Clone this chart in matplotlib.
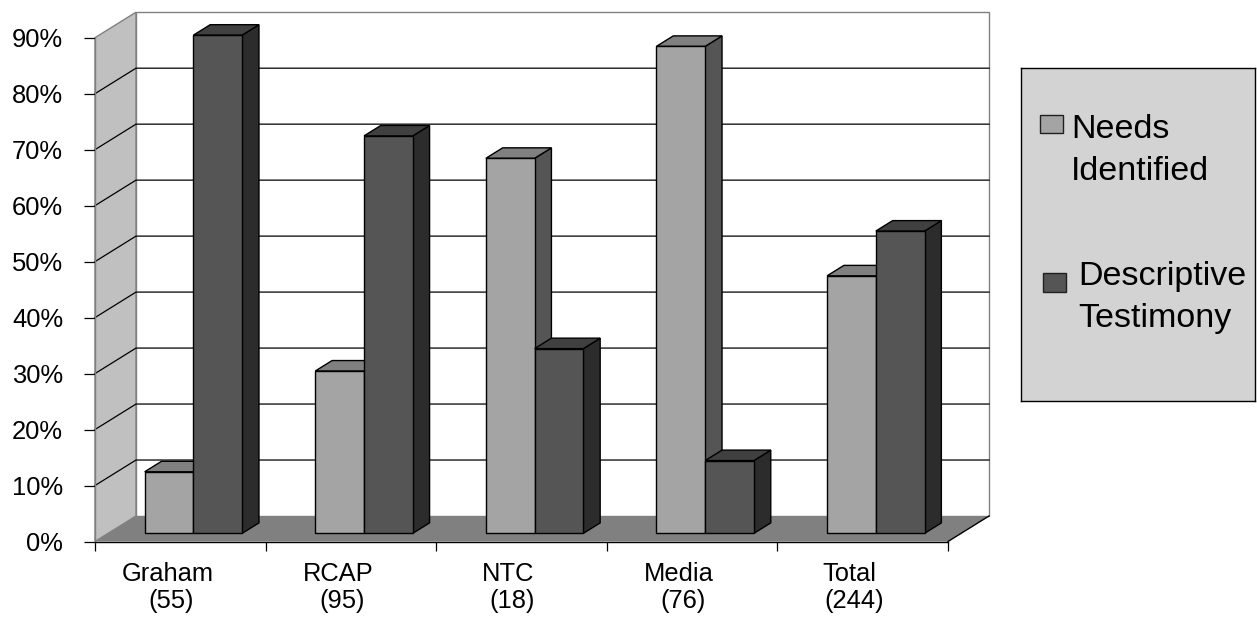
import matplotlib
matplotlib.use("Agg")
import matplotlib.pyplot as plt
from matplotlib.patches import Polygon, Rectangle

# ---- data -------------------------------------------------------------
categories = ["Graham", "RCAP", "NTC", "Media", "Total"]
counts = ["(55)", "(95)", "(18)", "(76)", "(244)"]
needs_identified = [11, 29, 67, 87, 46]
descriptive_testimony = [89, 71, 33, 13, 54]
legend_labels = [["Needs", "Identified"], ["Descriptive", "Testimony"]]
y_ticks = list(range(0, 100, 10))

# ---- styling ----------------------------------------------------------
plt.rcParams["font.family"] = ["Liberation Sans", "DejaVu Sans"]
TICK_FS = 18.4
LEGEND_FS = 24.5

LIGHT = {"front": "#A4A4A4", "top": "#808080", "side": "#555555"}
DARK = {"front": "#555555", "top": "#404040", "side": "#2C2C2C"}
WALL = "#C0C0C0"
FLOOR = "#808080"
EDGE_GRAY = "#808080"

W, H = 1257, 620
fig = plt.figure(figsize=(W / 100, H / 100), dpi=100)
fig.patch.set_facecolor("white")

# front plane of the plot box, in pixels
px_left, px_right = 95, 948
px_zero, px_top = 541.5, 37.7
ax = fig.add_axes([px_left / W, (H - px_zero) / H,
                   (px_right - px_left) / W, (px_zero - px_top) / H])
n = len(categories)
ax.set_xlim(0, n)
ax.set_ylim(0, 90)
ax.set_facecolor("none")

# oblique depth vector (data units per unit of depth)
unit_x = (px_right - px_left) / n
unit_y = (px_zero - px_top) / 90
DX = 41 / unit_x
DY = 25.5 / unit_y


def proj(x, y, d):
    return (x + d * DX, y + d * DY)


def face(pts, color, z, edge="black", lw=1.0):
    ax.add_patch(Polygon([proj(*p) for p in pts], closed=True,
                         facecolor=color, edgecolor=edge, linewidth=lw,
                         zorder=z, clip_on=False, joinstyle="miter"))


ymax = 90
# back wall
face([(0, 0, 1), (n, 0, 1), (n, ymax, 1), (0, ymax, 1)], "white", 0.5,
     edge=EDGE_GRAY)
# left side wall
face([(0, 0, 0), (0, 0, 1), (0, ymax, 1), (0, ymax, 0)], WALL, 0.6,
     edge=EDGE_GRAY)

# gridlines on side wall and back wall
for v in y_ticks[1:-1]:
    pts = [proj(0, v, 0), proj(0, v, 1), proj(n, v, 1)]
    ax.plot([p[0] for p in pts], [p[1] for p in pts], color="black",
            lw=0.9, zorder=0.7, clip_on=False, solid_joinstyle="miter")

# floor
face([(0, 0, 0), (n, 0, 0), (n, 0, 1), (0, 0, 1)], FLOOR, 0.8, edge="none",
     lw=0)
fr0, fr1 = proj(n, 0, 0), proj(n, 0, 1)
ax.plot([fr0[0], fr1[0]], [fr0[1], fr1[1]], color="black", lw=1.0,
        zorder=0.85, clip_on=False)

# 3-D bars
bar_w = 1 / 3.5
d0, d1 = 0.32, 0.73
z = 1.0
for i in range(n):
    c = i + 0.5
    for xa, v, col in ((c - bar_w, needs_identified[i], LIGHT),
                       (c, descriptive_testimony[i], DARK)):
        xb = xa + bar_w
        face([(xb, 0, d0), (xb, 0, d1), (xb, v, d1), (xb, v, d0)],
             col["side"], z)
        face([(xa, v, d0), (xb, v, d0), (xb, v, d1), (xa, v, d1)],
             col["top"], z + 0.01)
        face([(xa, 0, d0), (xb, 0, d0), (xb, v, d0), (xa, v, d0)],
             col["front"], z + 0.02)
        z += 0.05

# axes, ticks and labels
for s in ("top", "right"):
    ax.spines[s].set_visible(False)
ax.spines["left"].set_color(EDGE_GRAY)
ax.spines["left"].set_linewidth(1.0)
ax.spines["bottom"].set_color("black")
ax.spines["bottom"].set_linewidth(1.0)
for s in ax.spines.values():
    s.set_zorder(5)

ax.set_yticks(y_ticks)
ax.set_yticklabels([f"{v}%" for v in y_ticks], fontsize=TICK_FS)
ax.tick_params(axis="y", direction="out", length=8, width=0.9,
               color="black", pad=15)
ax.set_xticks(range(n + 1))
ax.set_xticklabels([])
ax.tick_params(axis="x", direction="out", length=6.5, width=0.9,
               color="black")

line1_y = (px_zero - 581) / unit_y
line2_y = (px_zero - 608) / unit_y
for i, (name, cnt) in enumerate(zip(categories, counts)):
    ax.text(i + 0.5 - 13 / unit_x, line1_y, name, ha="center",
            va="baseline", fontsize=TICK_FS, clip_on=False)
    ax.text(i + 0.5 - 9 / unit_x, line2_y, cnt, ha="center",
            va="baseline", fontsize=TICK_FS, clip_on=False)

# ---- legend box -------------------------------------------------------
lg_left, lg_right, lg_top, lg_bottom = 1021, 1255, 68, 401
lax = fig.add_axes([lg_left / W, (H - lg_bottom) / H,
                    (lg_right - lg_left) / W, (lg_bottom - lg_top) / H])
lax.set_xlim(0, lg_right - lg_left)
lax.set_ylim(lg_bottom - lg_top, 0)
lax.set_facecolor("#D3D3D3")
lax.set_xticks([])
lax.set_yticks([])
for s in lax.spines.values():
    s.set_color("black")
    s.set_linewidth(1.0)

entries = [
    (LIGHT["front"], (19, 47, 23, 18), 50, (70, 112), legend_labels[0]),
    (DARK["front"], (22, 205, 23, 19), 57, (217, 259), legend_labels[1]),
]
for color, (sx, sy, sw, sh), tx, baselines, lines in entries:
    lax.add_patch(Rectangle((sx, sy), sw, sh, facecolor=color,
                            edgecolor="#202020", linewidth=1.0))
    for by, txt in zip(baselines, lines):
        lax.text(tx, by, txt, ha="left", va="baseline", fontsize=LEGEND_FS)

fig.savefig("out.png", dpi=100, facecolor="white")
